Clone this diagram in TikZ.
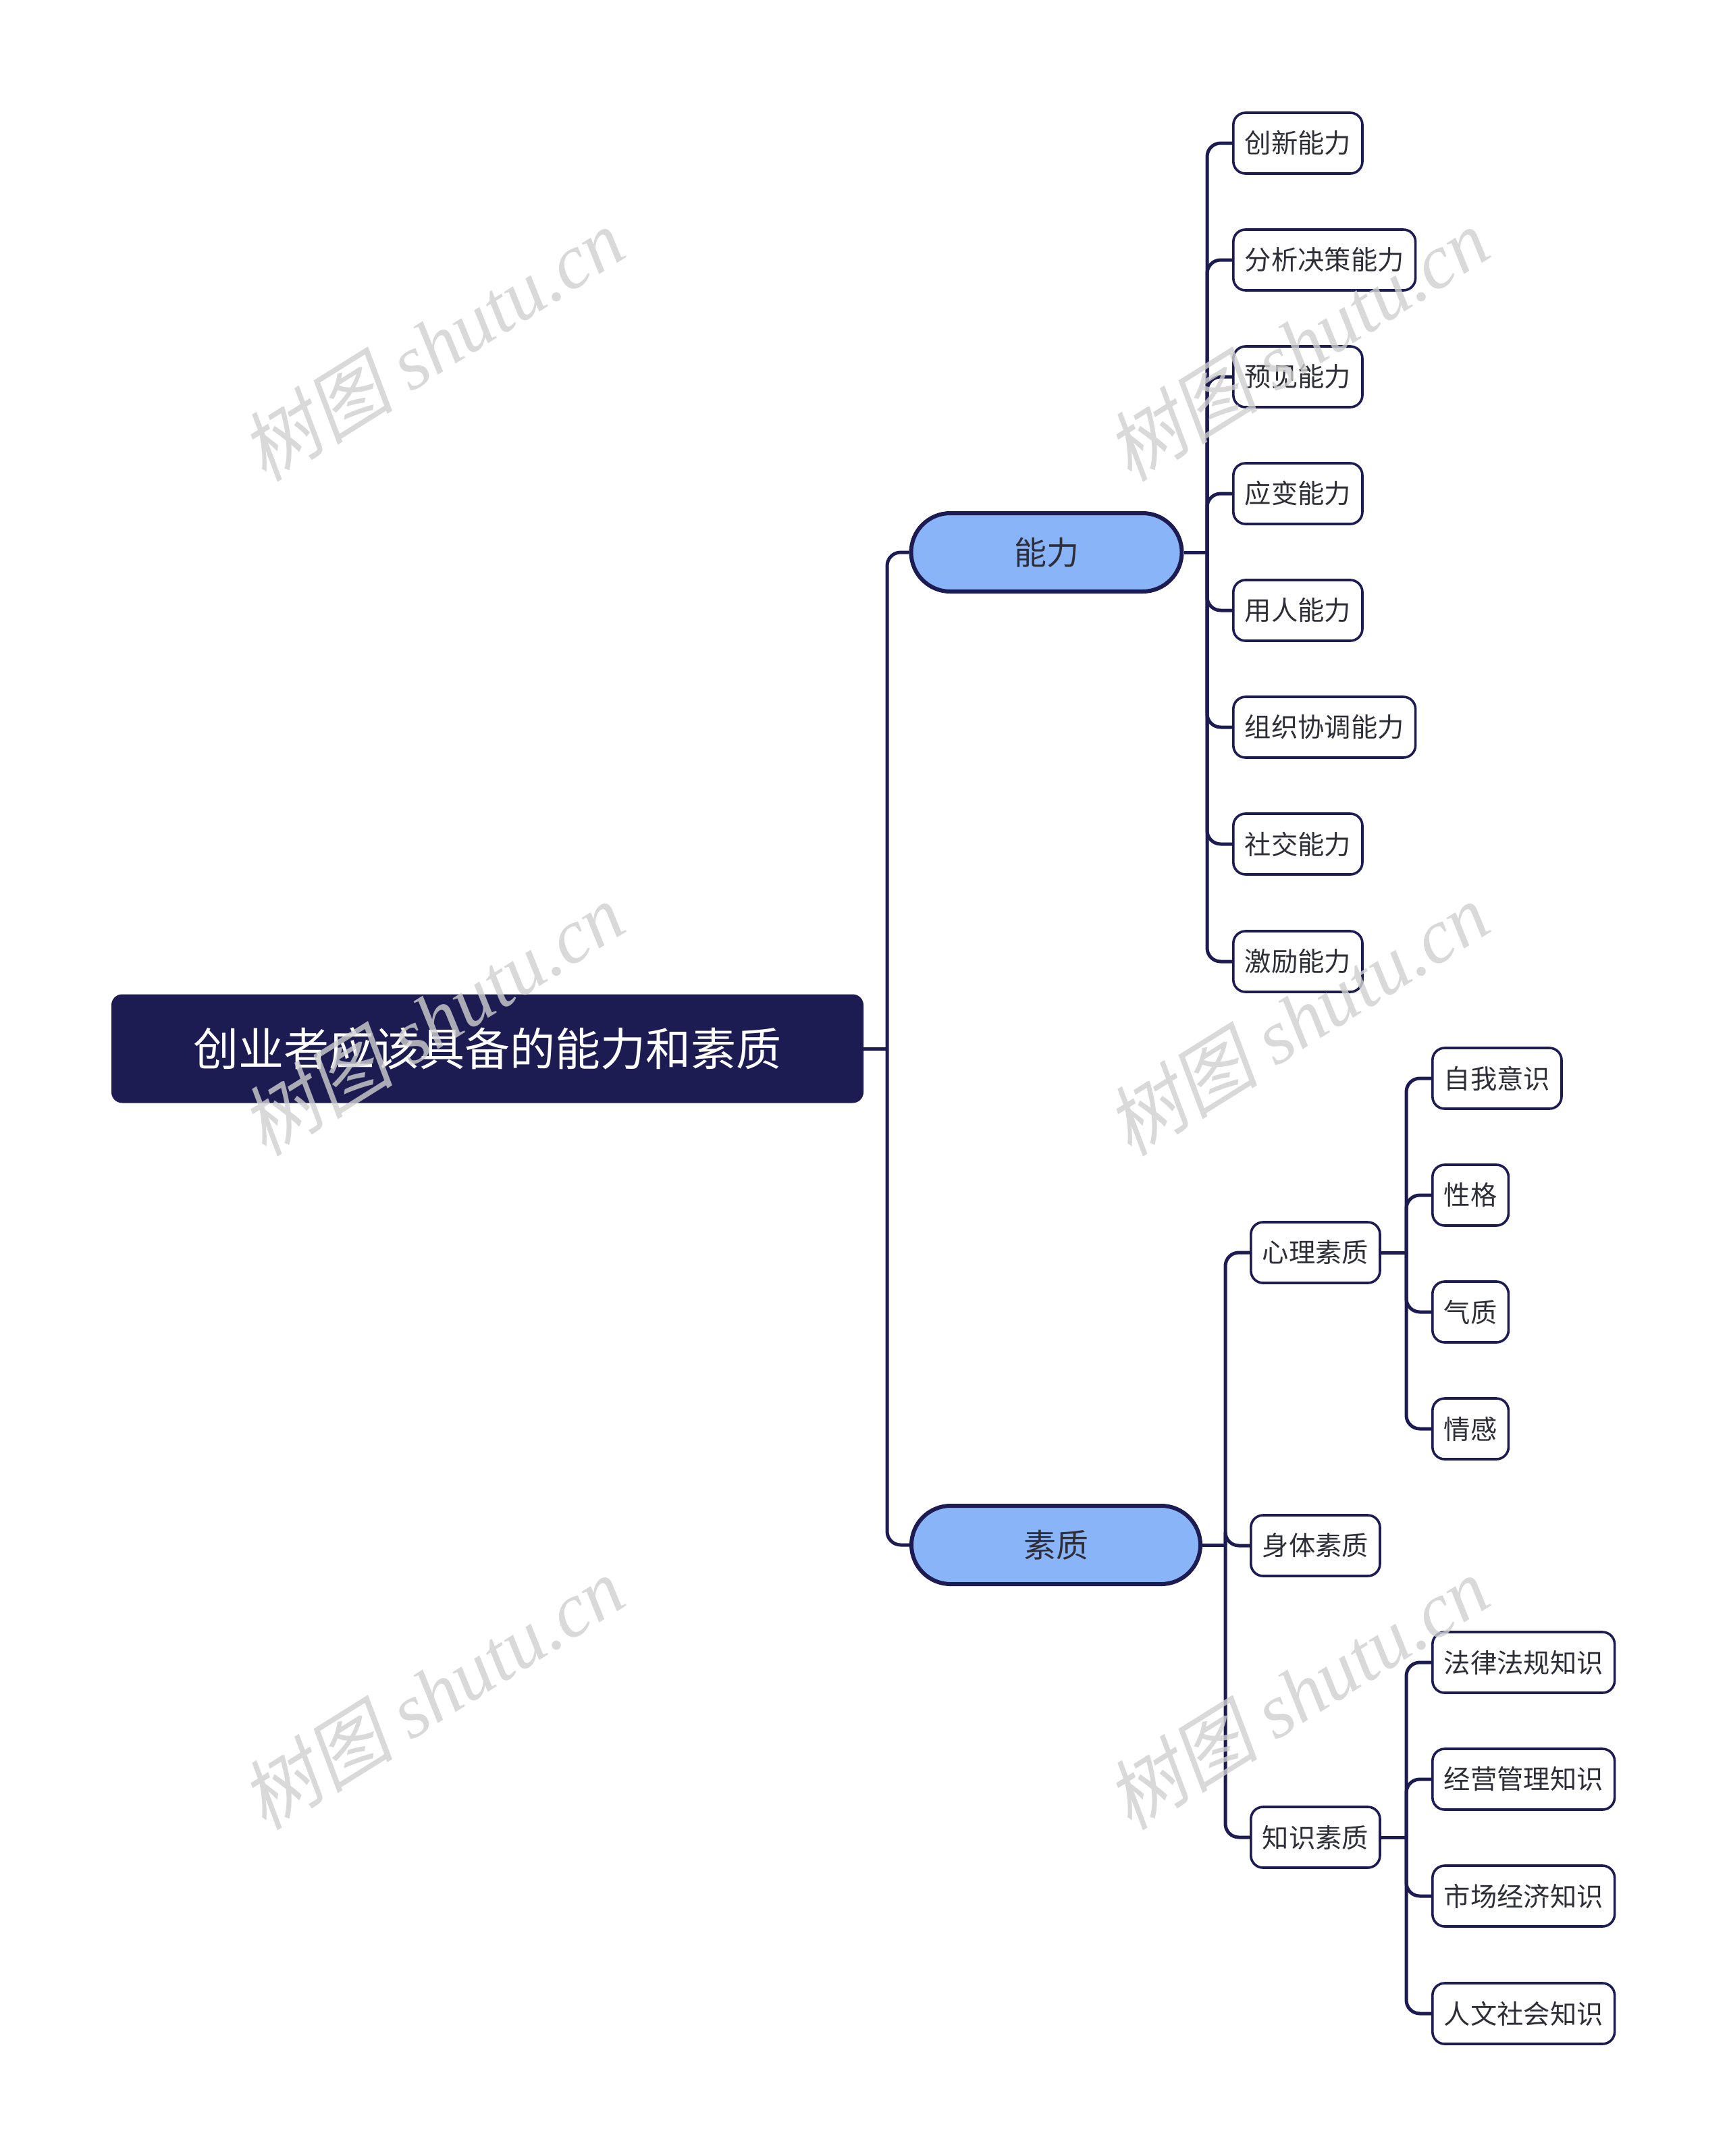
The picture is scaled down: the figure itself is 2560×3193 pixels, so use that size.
\documentclass[tikz,border=0pt]{standalone}
\usepackage{fontspec}
\setmainfont{Noto Sans CJK SC}
\newfontfamily\markfont{Liberation Serif}
\newfontfamily\markcjk[FakeSlant=0.2]{Noto Sans CJK SC}

\definecolor{navy}{HTML}{1C1B52}
\definecolor{pillblue}{HTML}{8AB4F8}
\definecolor{inkgray}{HTML}{2E2E38}
\definecolor{markgray}{HTML}{CFCFCF}

\begin{document}
\begin{tikzpicture}[x=1pt,y=-1pt,
  line/.style={draw=navy,line width=5pt,rounded corners=20pt},
  rootbox/.style={fill=navy,rounded corners=16pt,minimum width=1114pt,minimum height=161pt,
    text=white,font=\fontsize{67}{80}\selectfont},
  pill/.style={draw=navy,line width=6pt,fill=pillblue,rounded corners=58pt,minimum height=116pt,
    text=inkgray,font=\fontsize{48}{58}\selectfont},
  leaf/.style={draw=navy,line width=3.6pt,fill=white,rounded corners=18pt,minimum height=90pt,
    inner xsep=17pt,anchor=west,text=inkgray,font=\fontsize{39.3}{47}\selectfont},
  wmark/.style={text=markgray,opacity=0.8,rotate=32,font=\fontsize{114}{126}\selectfont}]
  \useasboundingbox (0,0) rectangle (2560,3193);

  % Root
  \node[rootbox] (root) at (722,1553) {创业者应该具备的能力和素质};

  % Main branches
  \node[pill,minimum width=401pt] (ability) at (1550,818) {能力};
  \node[pill,minimum width=428pt] (quality) at (1564,2288) {素质};

  % Abilities
  \node[leaf] (a1) at (1825,212) {创新能力};
  \node[leaf] (a2) at (1825,385) {分析决策能力};
  \node[leaf] (a3) at (1825,558) {预见能力};
  \node[leaf] (a4) at (1825,731) {应变能力};
  \node[leaf] (a5) at (1825,904) {用人能力};
  \node[leaf] (a6) at (1825,1077) {组织协调能力};
  \node[leaf] (a7) at (1825,1250) {社交能力};
  \node[leaf] (a8) at (1825,1424) {激励能力};

  % Qualities
  \node[leaf] (mind) at (1851,1855) {心理素质};
  \node[leaf] (body) at (1851,2289) {身体素质};
  \node[leaf] (know) at (1851,2721) {知识素质};

  \node[leaf] (m1) at (2120,1597) {自我意识};
  \node[leaf] (m2) at (2120,1770) {性格};
  \node[leaf] (m3) at (2120,1943) {气质};
  \node[leaf] (m4) at (2120,2116) {情感};

  \node[leaf] (k1) at (2120,2462) {法律法规知识};
  \node[leaf] (k2) at (2120,2635) {经营管理知识};
  \node[leaf] (k3) at (2120,2808) {市场经济知识};
  \node[leaf] (k4) at (2120,2982) {人文社会知识};

  % Connectors
  \coordinate (rootj) at (1314,1553);
  \draw[line] (root.east) -- (rootj);
  \draw[line] (rootj) |- (ability.west);
  \draw[line] (rootj) |- (quality.west);

  \coordinate (abj) at (1788,818);
  \draw[line] (ability.east) -- (abj);
  \draw[line] (abj) |- (a1.west);
  \draw[line] (abj) |- (a2.west);
  \draw[line] (abj) |- (a3.west);
  \draw[line] (abj) |- (a4.west);
  \draw[line] (abj) |- (a5.west);
  \draw[line] (abj) |- (a6.west);
  \draw[line] (abj) |- (a7.west);
  \draw[line] (abj) |- (a8.west);

  \coordinate (quj) at (1815,2288);
  \draw[line] (quality.east) -- (quj);
  \draw[line] (quj) |- (mind.west);
  \draw[line] (quj) |- (body.west);
  \draw[line] (quj) |- (know.west);

  \coordinate (mij) at (2083,1855);
  \draw[line] (mind.east) -- (mij);
  \draw[line] (mij) |- (m1.west);
  \draw[line] (mij) |- (m2.west);
  \draw[line] (mij) |- (m3.west);
  \draw[line] (mij) |- (m4.west);

  \coordinate (knj) at (2083,2721);
  \draw[line] (know.east) -- (knj);
  \draw[line] (knj) |- (k1.west);
  \draw[line] (knj) |- (k2.west);
  \draw[line] (knj) |- (k3.west);
  \draw[line] (knj) |- (k4.west);

  % Watermarks
  \node[wmark] (w1) at (640,510) {{\markcjk 树图} {\markfont\itshape shutu.cn}};
  \node[wmark] (w2) at (1921,510) {{\markcjk 树图} {\markfont\itshape shutu.cn}};
  \node[wmark] (w3) at (640,1509) {{\markcjk 树图} {\markfont\itshape shutu.cn}};
  \node[wmark] (w4) at (1921,1509) {{\markcjk 树图} {\markfont\itshape shutu.cn}};
  \node[wmark] (w5) at (640,2507) {{\markcjk 树图} {\markfont\itshape shutu.cn}};
  \node[wmark] (w6) at (1921,2507) {{\markcjk 树图} {\markfont\itshape shutu.cn}};
\end{tikzpicture}
\end{document}
